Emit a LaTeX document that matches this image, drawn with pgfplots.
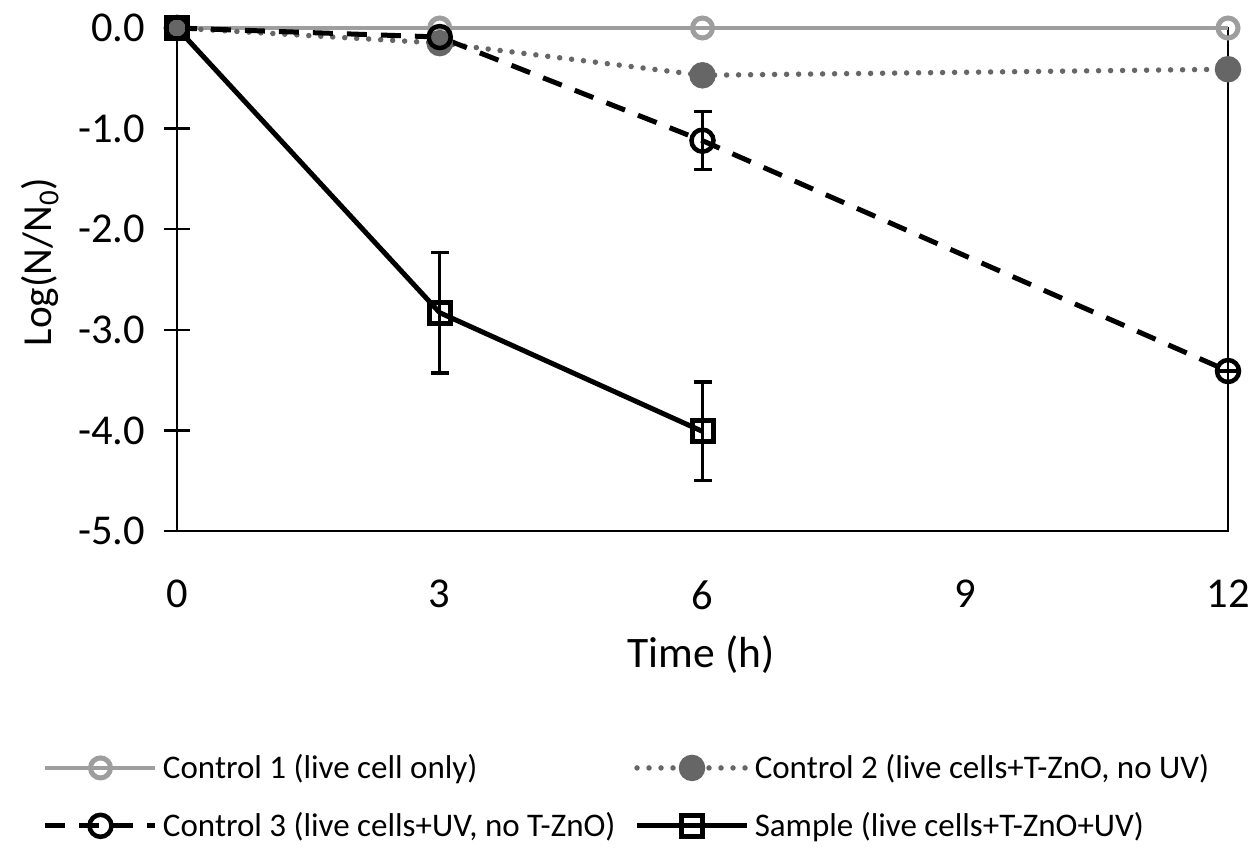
\documentclass[border=0pt]{standalone}
\usepackage{fontspec}
\setmainfont{Carlito}
\usepackage{pgfplots}
\pgfplotsset{compat=1.18}
\definecolor{cone}{HTML}{9E9E9E}
\definecolor{ctwo}{HTML}{666666}
\begin{document}
\begin{tikzpicture}
\useasboundingbox (0,0) rectangle (504pt,342pt);
\begin{axis}[
  at={(70.8pt,129.6pt)}, anchor=south west,
  scale only axis, width=420.4pt, height=201.2pt,
  xmin=0, xmax=12, ymin=-5, ymax=0,
  clip=false,
  axis line style={black, line width=1pt},
  xtick={0,3,6,9,12}, xticklabels={0,3,6,9,12},
  ytick={-5,-4,-3,-2,-1,0},
  yticklabels={-5.0,-4.0,-3.0,-2.0,-1.0,0.0},
  xtick style={draw=none},
  ytick pos=left, xtick pos=bottom,
  ytick style={black, line width=1pt},
  tick align=center, major tick length=10.4pt,
  ticklabel style={font=\fontsize{17}{20}\selectfont},
  xticklabel style={yshift=-11pt},
  yticklabel style={xshift=-4pt},
  xlabel={Time (h)},
  xlabel style={at={(axis description cs:0.4986,0)}, anchor=center, yshift=-49.6pt, font=\fontsize{17.4}{20}\selectfont},
  ylabel={Log(N/N\textsubscript{0})},
  ylabel style={at={(axis description cs:-0.130,0.535)}, anchor=center, font=\fontsize{16.5}{20}\selectfont},
  legend columns=2,
  legend style={draw=none, fill=none, inner sep=0pt, outer sep=0pt,
    at={(axis description cs:-0.1275,-0.4334)}, anchor=north west,
    font=\fontsize{13.2}{16}\selectfont, row sep=8pt,
    /tikz/every even column/.append style={column sep=5.5pt}},
  legend cell align=left,
  legend image code/.code={\draw[mark repeat=2, mark phase=2, #1] plot coordinates {(0pt,0pt) (22pt,0pt) (44pt,0pt)};},
  error bars/error bar style={black, line width=1.3pt, solid},
  error bars/error mark options={rotate=90, mark size=3.6pt, line width=1.3pt, black, solid},
]
\addplot[cone, line width=1.6pt, mark=o, mark size=4pt, mark options={solid, line width=2pt, fill=white}]
  coordinates {(0,0) (3,0) (6,0) (12,0)};
\addlegendentry{Control 1 (live cell only)}
\addplot[ctwo, line width=2.2pt, line cap=round, dash pattern=on 0pt off 4.8pt, mark=*, mark size=4.8pt, mark options={solid, fill=ctwo, draw=ctwo, line width=1pt},
  error bars/.cd, y dir=both, y explicit]
  coordinates {(0,0) +- (0,0) (3,-0.15) +- (0,0.03) (6,-0.47) +- (0,0.05) (12,-0.41) +- (0,0.03)};
\addlegendentry{Control 2 (live cells+T-ZnO, no UV)}
\addplot[black, line width=2pt, dash pattern=on 8pt off 5.6pt, mark=o, mark size=4.4pt, mark options={solid, line width=1.8pt, fill=white},
  error bars/.cd, y dir=both, y explicit]
  coordinates {(0,0) +- (0,0) (3,-0.09) +- (0,0) (6,-1.12) +- (0,0.29) (12,-3.41) +- (0,0)};
\addlegendentry{Control 3 (live cells+UV, no T-ZnO)}
\addplot[black, line width=2pt, mark=square, mark size=4.2pt, mark options={solid, line width=2pt, fill=white},
  error bars/.cd, y dir=both, y explicit]
  coordinates {(0,0) +- (0,0) (3,-2.83) +- (0,0.6) (6,-4.01) +- (0,0.49)};
\addlegendentry{Sample (live cells+T-ZnO+UV)}
\end{axis}
\end{tikzpicture}
\end{document}
